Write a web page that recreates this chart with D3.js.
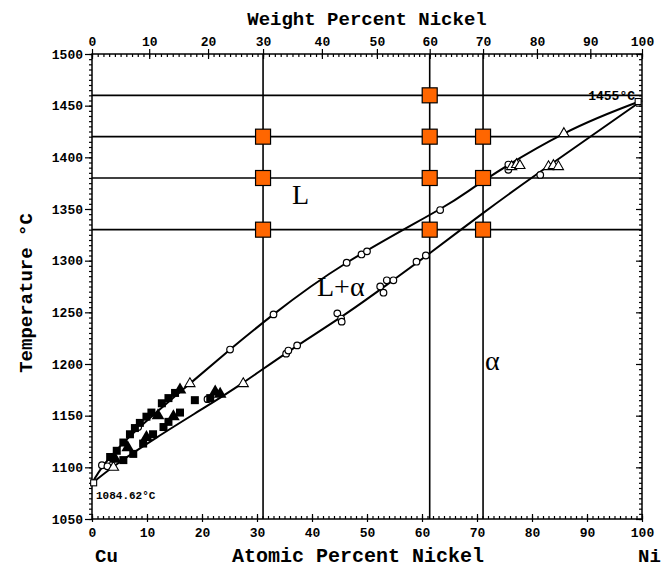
<!DOCTYPE html>
<html>
<head>
<meta charset="utf-8">
<script src="https://cdn.jsdelivr.net/npm/d3@7"></script>
<style>
  html, body { margin: 0; padding: 0; background: #fff; }
  svg { display: block; }
</style>
</head>
<body>
<svg id="chart" width="664" height="571"></svg>
<script>
// Cu–Ni binary phase diagram with heat-treatment sample conditions

// Axis ticks
const tempTicks = [1050, 1100, 1150, 1200, 1250, 1300, 1350, 1400, 1450, 1500];
const atomicTicks = [0, 10, 20, 30, 40, 50, 60, 70, 80, 90, 100];
const weightTicks = [0, 10, 20, 30, 40, 50, 60, 70, 80, 90, 100];
// atomic % Ni corresponding to each weight % tick
const weightTickAtomic = [0, 10.4, 21.1, 31.1, 41.8, 51.8, 61.4, 71.1, 80.9, 90.6, 100];

// Liquidus (upper boundary) in atomic % Ni / °C
const liquidusAt = [0, 2.4, 8.1, 17.8, 25.1, 33, 46.3, 63.3, 71.1, 85.8, 100];
const liquidusT  = [1084.62, 1104, 1136, 1181, 1214, 1248, 1298, 1350, 1377, 1423, 1455];

// Solidus (lower boundary)
const solidusAt = [0, 4.5, 11.8, 20.2, 27.5, 36, 46, 54.2, 61.1, 71.1, 81.5, 100];
const solidusT  = [1084.62, 1103, 1129, 1157, 1182, 1213, 1248, 1279, 1306, 1346, 1386, 1455];

// Experimental points [atomic % Ni, °C]
const openCircles = [
  [1.8, 1102], [2.8, 1101], [8.4, 1139], [21, 1166], [25.1, 1214], [33, 1248],
  [35.3, 1210], [35.7, 1213], [37.3, 1218], [44.6, 1249], [45.3, 1244], [45.4, 1241],
  [46.3, 1298], [49, 1306], [50, 1309], [52.4, 1275], [53, 1269], [53.6, 1281],
  [54.8, 1281], [59, 1299], [60.7, 1305], [63.3, 1349], [75.7, 1388], [75.7, 1393], [81.5, 1383]
];
const openTriangles = [
  [3.9, 1100], [17.8, 1181], [27.5, 1181], [76.3, 1391], [77.2, 1393], [77.8, 1392],
  [83, 1391], [83.9, 1392], [84.8, 1391], [85.8, 1423]
];
const openSquares = [[0.3, 1085], [99.3, 1454]];
const filledSquares = [
  [3.3, 1110], [4.5, 1116], [5.7, 1124], [6.9, 1132], [7.8, 1138], [8.7, 1143],
  [9.9, 1149], [10.8, 1153], [12.7, 1162], [13.9, 1167], [15.1, 1172],
  [5.7, 1107], [7.5, 1113], [9.3, 1123], [11.1, 1132], [13, 1139], [13.9, 1144],
  [16, 1153], [18.7, 1165], [21.5, 1167]
];
const filledTriangles = [
  [4.2, 1108], [6.5, 1119], [9.9, 1129], [12, 1150], [14.8, 1149], [16, 1175],
  [22.4, 1173], [23.3, 1171]
];

// Sample conditions (weight % Ni, °C) and guide lines
const guideWeight = [30, 60, 70];
const guideTemp = [1460, 1420, 1380, 1330];
const sampleWeight = [30, 30, 30, 60, 60, 60, 60, 70, 70, 70];
const sampleTemp   = [1420, 1380, 1330, 1460, 1420, 1380, 1330, 1420, 1380, 1330];

const svg = d3.select("#chart");
const x = d3.scaleLinear().domain([0, 100]).range([92, 642]);
const y = d3.scaleLinear().domain([1050, 1500]).range([519, 54]);
const w = d3.scaleLinear().domain(weightTicks).range(weightTickAtomic.map(x));

const tickFont = "'Liberation Mono', monospace";
const minorT = d3.range(1050, 1501, 5);
const minorPct = d3.range(0, 101, 1);

function styleAxis(g, labels) {
  g.select(".domain").remove();
  g.selectAll(".tick line").attr("stroke", "#000").attr("stroke-width", 1.2);
  g.selectAll(".tick text")
    .attr("font-family", tickFont)
    .attr("font-weight", "bold")
    .attr("font-size", 13)
    .attr("fill", "#000");
  if (!labels) g.selectAll(".tick text").remove();
}

// guide lines
svg.append("g").selectAll("line").data(guideTemp).join("line")
  .attr("x1", x(0)).attr("x2", x(100))
  .attr("y1", d => y(d)).attr("y2", d => y(d))
  .attr("stroke", "#000").attr("stroke-width", 1.6);
svg.append("g").selectAll("line").data(guideWeight).join("line")
  .attr("x1", d => w(d)).attr("x2", d => w(d))
  .attr("y1", y(1500)).attr("y2", y(1050))
  .attr("stroke", "#000").attr("stroke-width", 1.6);

// frame
svg.append("rect")
  .attr("x", x(0)).attr("y", y(1500))
  .attr("width", x(100) - x(0)).attr("height", y(1050) - y(1500))
  .attr("fill", "none").attr("stroke", "#000").attr("stroke-width", 1.5);

// left axis
svg.append("g").attr("transform", `translate(${x(0)},0)`)
  .call(d3.axisLeft(y).tickValues(minorT).tickSize(3).tickFormat(""))
  .call(g => styleAxis(g, false));
svg.append("g").attr("transform", `translate(${x(0)},0)`)
  .call(d3.axisLeft(y).tickValues(tempTicks).tickSize(7).tickPadding(2).tickFormat(d3.format("d")))
  .call(g => styleAxis(g, true));
// right axis
svg.append("g").attr("transform", `translate(${x(100)},0)`)
  .call(d3.axisLeft(y).tickValues(minorT).tickSize(3).tickFormat(""))
  .call(g => styleAxis(g, false));
svg.append("g").attr("transform", `translate(${x(100)},0)`)
  .call(d3.axisLeft(y).tickValues(tempTicks).tickSize(6).tickFormat(""))
  .call(g => styleAxis(g, false));

// bottom axis (atomic %)
svg.append("g").attr("transform", `translate(0,${y(1050)})`)
  .call(d3.axisTop(x).tickValues(minorPct).tickSize(3).tickFormat(""))
  .call(g => styleAxis(g, false));
svg.append("g").attr("transform", `translate(0,${y(1050)})`)
  .call(d3.axisTop(x).tickValues(atomicTicks).tickSize(5).tickFormat(""))
  .call(g => styleAxis(g, false));
svg.append("g").attr("transform", `translate(0,${y(1050)})`)
  .call(d3.axisBottom(x).tickValues(atomicTicks).tickSize(3).tickPadding(6).tickFormat(d3.format("d")))
  .call(g => styleAxis(g, true));

// top axis (weight %)
svg.append("g").attr("transform", `translate(0,${y(1500)})`)
  .call(d3.axisBottom(w).tickValues(minorPct).tickSize(3).tickFormat(""))
  .call(g => styleAxis(g, false));
svg.append("g").attr("transform", `translate(0,${y(1500)})`)
  .call(d3.axisBottom(w).tickValues(weightTicks).tickSize(5).tickFormat(""))
  .call(g => styleAxis(g, false));
svg.append("g").attr("transform", `translate(0,${y(1500)})`)
  .call(d3.axisTop(w).tickValues(weightTicks).tickSize(5).tickPadding(3).tickFormat(d3.format("d")))
  .call(g => styleAxis(g, true));

// phase boundaries
const curve = d3.line().x(d => x(d[0])).y(d => y(d[1])).curve(d3.curveNatural);
svg.append("path").datum(liquidusAt.map((a, i) => [a, liquidusT[i]]))
  .attr("d", curve).attr("fill", "none").attr("stroke", "#000").attr("stroke-width", 2);
svg.append("path").datum(solidusAt.map((a, i) => [a, solidusT[i]]))
  .attr("d", curve).attr("fill", "none").attr("stroke", "#000").attr("stroke-width", 2);

// experimental markers
const tri = d3.symbol().type(d3.symbolTriangle);
svg.append("g").selectAll("circle").data(openCircles).join("circle")
  .attr("cx", d => x(d[0])).attr("cy", d => y(d[1])).attr("r", 3.3)
  .attr("fill", "#fff").attr("stroke", "#000").attr("stroke-width", 1.2);
svg.append("g").selectAll("path").data(openTriangles).join("path")
  .attr("transform", d => `translate(${x(d[0])},${y(d[1])})`)
  .attr("d", tri.size(45)())
  .attr("fill", "#fff").attr("stroke", "#000").attr("stroke-width", 1.1);
svg.append("g").selectAll("rect").data(openSquares).join("rect")
  .attr("x", d => x(d[0]) - 3).attr("y", d => y(d[1]) - 3).attr("width", 6).attr("height", 6)
  .attr("fill", "#fff").attr("stroke", "#000").attr("stroke-width", 1.1);
svg.append("g").selectAll("rect").data(filledSquares).join("rect")
  .attr("x", d => x(d[0]) - 4).attr("y", d => y(d[1]) - 4).attr("width", 8).attr("height", 8)
  .attr("fill", "#000");
svg.append("g").selectAll("path").data(filledTriangles).join("path")
  .attr("transform", d => `translate(${x(d[0])},${y(d[1])})`)
  .attr("d", tri.size(70)())
  .attr("fill", "#000");

// sample conditions
svg.append("g").selectAll("rect").data(sampleWeight).join("rect")
  .attr("x", (d, i) => w(d) - 7.5).attr("y", (d, i) => y(sampleTemp[i]) - 7.5)
  .attr("width", 15).attr("height", 15)
  .attr("fill", "#FF6600").attr("stroke", "#000").attr("stroke-width", 1.2);

// annotations
const mono = "'Liberation Mono', monospace";
svg.append("text").attr("x", x(100) - 7).attr("y", y(1455) - 1)
  .attr("text-anchor", "end").attr("font-family", mono).attr("font-weight", "bold")
  .attr("font-size", 13).text("1455°C");
svg.append("text").attr("x", x(0) + 4).attr("y", 499)
  .attr("font-family", mono).attr("font-weight", "bold").attr("font-size", 11)
  .text("1084.62°C");

const serif = "'Liberation Serif', 'Times New Roman', serif";
svg.append("text").attr("x", 292).attr("y", 204).attr("font-family", serif)
  .attr("font-size", 28).text("L");
svg.append("text").attr("x", 317).attr("y", 296).attr("font-family", serif)
  .attr("font-size", 28).text("L+α");
svg.append("text").attr("x", 485).attr("y", 370).attr("font-family", serif)
  .attr("font-size", 28).text("α");

// axis titles
svg.append("text").attr("x", 367).attr("y", 25).attr("text-anchor", "middle")
  .attr("font-family", mono).attr("font-weight", "bold").attr("font-size", 19)
  .text("Weight Percent Nickel");
svg.append("text").attr("x", 358).attr("y", 562).attr("text-anchor", "middle")
  .attr("font-family", mono).attr("font-weight", "bold").attr("font-size", 20)
  .text("Atomic Percent Nickel");
svg.append("text").attr("x", 95).attr("y", 562)
  .attr("font-family", mono).attr("font-weight", "bold").attr("font-size", 19).text("Cu");
svg.append("text").attr("x", 638).attr("y", 562)
  .attr("font-family", mono).attr("font-weight", "bold").attr("font-size", 19).text("Ni");
svg.append("text").attr("transform", "translate(32,293) rotate(-90)")
  .attr("text-anchor", "middle")
  .attr("font-family", mono).attr("font-weight", "bold").attr("font-size", 19)
  .text("Temperature °C");
</script>
</body>
</html>
